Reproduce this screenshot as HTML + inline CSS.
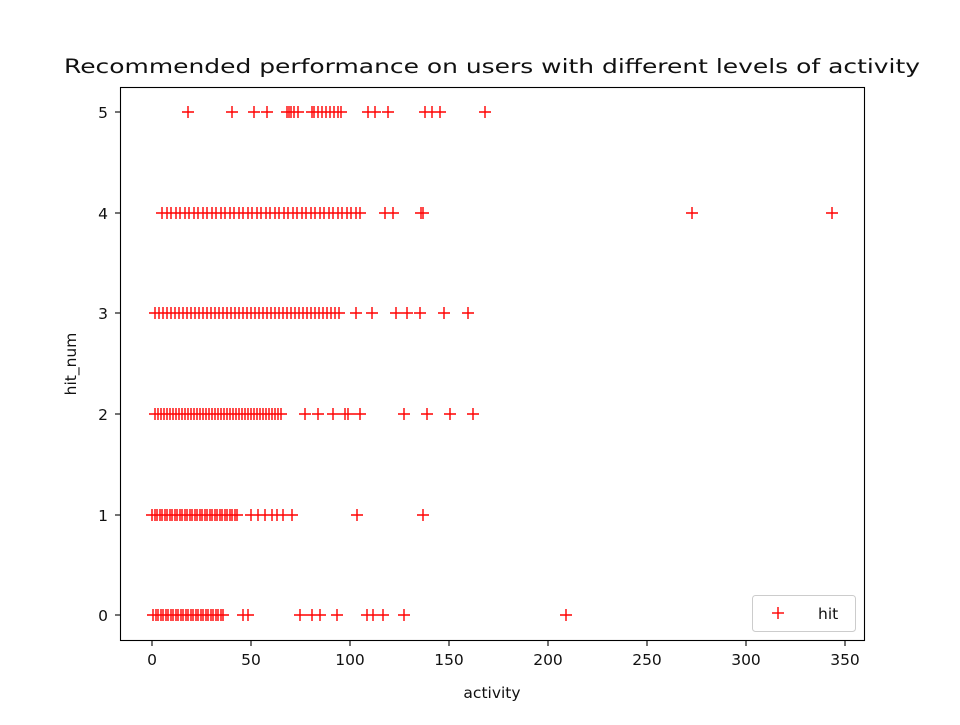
<!DOCTYPE html>
<html><head><meta charset="utf-8"><style>
body{margin:0;background:#fff;width:960px;height:720px;overflow:hidden}
svg{font-family:"DejaVu Sans","Liberation Sans",sans-serif}
</style></head><body>
<svg id="s" width="960" height="720" xmlns="http://www.w3.org/2000/svg">
<rect width="960" height="720" fill="#fff"/>
<text x="492" y="73" font-size="19.5" text-anchor="middle" fill="#111" textLength="856" lengthAdjust="spacingAndGlyphs">Recommended performance on users with different levels of activity</text>
<g id="pts" stroke="#f00" stroke-width="1.4" fill="none"></g>
<rect x="120.5" y="87.5" width="744" height="553" fill="none" stroke="#000" stroke-width="1.1"/>
<g stroke="#000" stroke-width="1.1">
<line x1="152" y1="641" x2="152" y2="646"/><line x1="251" y1="641" x2="251" y2="646"/><line x1="350" y1="641" x2="350" y2="646"/><line x1="449" y1="641" x2="449" y2="646"/><line x1="548" y1="641" x2="548" y2="646"/><line x1="647" y1="641" x2="647" y2="646"/><line x1="746" y1="641" x2="746" y2="646"/><line x1="845" y1="641" x2="845" y2="646"/>
<line x1="115" y1="112" x2="120" y2="112"/><line x1="115" y1="213" x2="120" y2="213"/><line x1="115" y1="313" x2="120" y2="313"/><line x1="115" y1="414" x2="120" y2="414"/><line x1="115" y1="515" x2="120" y2="515"/><line x1="115" y1="615" x2="120" y2="615"/>
</g>
<g font-size="15.5" fill="#111" text-anchor="middle">
<text x="152" y="665">0</text><text x="251" y="665">50</text><text x="350" y="665">100</text><text x="449" y="665">150</text><text x="548" y="665">200</text><text x="647" y="665">250</text><text x="746" y="665">300</text><text x="845" y="665">350</text>
<text x="492" y="698">activity</text>
</g>
<g font-size="15.5" fill="#111" text-anchor="end">
<text x="108" y="118">5</text><text x="108" y="219">4</text><text x="108" y="319">3</text><text x="108" y="420">2</text><text x="108" y="521">1</text><text x="108" y="621">0</text>
</g>
<text transform="translate(76,364) rotate(-90)" font-size="15.5" fill="#111" text-anchor="middle">hit_num</text>
<rect x="752.5" y="595.5" width="103" height="36" rx="3" fill="#fff" stroke="#ccc"/>
<g stroke="#f00" stroke-width="1.4"><line x1="772" y1="613" x2="784" y2="613"/><line x1="778" y1="607" x2="778" y2="619"/></g>
<text x="818" y="619" font-size="15.5" fill="#111">hit</text>
</svg>
<script>
var rows={
112:[188,232,254,267,287,289,291,294,298,312,314,318,322,326,330,334,338,341,368,375,388,425,432,440,485],
213:"d162-363-4.5|385,393,421,423,692,832",
313:"d155-340-4|356,372,396,407,420,444,468",
414:"d155-283-3|305,318,333,345,348,360,404,427,450,473",
515:"d152-238-2.5|251,258,265,272,277,283,292,357,423",
615:"d153-225-2.5|243,248,300,312,320,337,367,373,383,404,566"};
var g=document.getElementById('pts'),d='';
for(var y in rows){var r=rows[y],xs=[];
 if(typeof r==='string'){var p=r.split('|'),a=p[0].slice(1).split('-').map(Number);
  for(var x=a[0];x<=a[1];x+=a[2])xs.push(Math.round(x));
  xs=xs.concat(p[1].split(',').map(Number));}else xs=r;
 xs.forEach(function(x){d+='M'+(x-6)+' '+y+'h12M'+x+' '+(y-6)+'v12';});}
var pa=document.createElementNS('http://www.w3.org/2000/svg','path');pa.setAttribute('d',d);g.appendChild(pa);
</script>
</body></html>
